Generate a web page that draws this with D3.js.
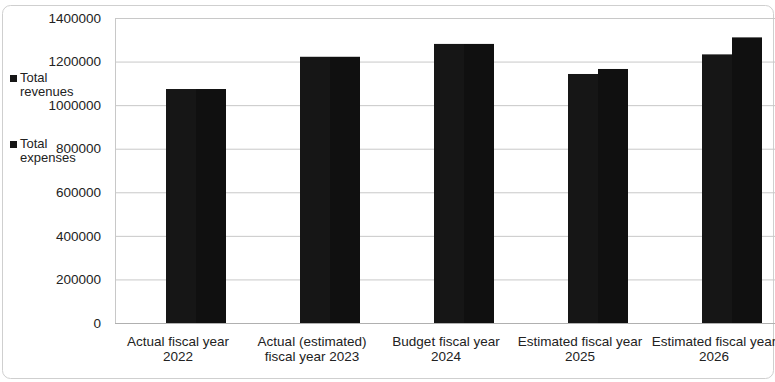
<!DOCTYPE html>
<html lang="en">
<head>
    <meta charset="UTF-8">
    <title>Total revenues and expenses</title>
    <script src="https://d3js.org/d3.v7.min.js"></script>
    <style>
        body { margin: 0; background: #fff; }
        text { font-family: "Liberation Sans", Arial, sans-serif; fill: #222; }
    </style>
</head>
<body>
    <svg width="775" height="382" id="chart"></svg>

    <script>
        // data
        var categories = [
            ["Actual fiscal year", "2022"],
            ["Actual (estimated)", "fiscal year 2023"],
            ["Budget fiscal year", "2024"],
            ["Estimated fiscal year", "2025"],
            ["Estimated fiscal year", "2026"]
        ];
        var seriesNames = ["Total revenues", "Total expenses"];
        var revenues = [1074000, 1222000, 1281000, 1143000, 1233000];
        var expenses = [1074000, 1222000, 1281000, 1166000, 1311000];
        var yTicks = [0, 200000, 400000, 600000, 800000, 1000000, 1200000, 1400000];

        var svg = d3.select("#chart");
        var plotLeft = 115, plotRight = 775, plotTop = 18, plotBottom = 323;

        // chart frame
        svg.append("rect")
            .attr("x", 2.5).attr("y", 5.5)
            .attr("width", 771).attr("height", 373)
            .attr("rx", 8)
            .attr("fill", "none")
            .attr("stroke", "#cfcfcf");

        var x = d3.scaleBand()
            .domain(d3.range(categories.length))
            .range([plotLeft - 4, plotLeft - 4 + 134 * categories.length]);

        // the two bars sit right of the category centre
        var x1 = d3.scaleBand()
            .domain([0, 1])
            .range([-12, 48]);

        var y = d3.scaleLinear()
            .domain([0, 1400000])
            .range([plotBottom, plotTop]);

        // gridlines
        svg.append("g")
            .selectAll("line")
            .data(yTicks.slice(1))
            .join("line")
            .attr("x1", plotLeft).attr("x2", plotRight)
            .attr("y1", d => y(d) + 0.5).attr("y2", d => y(d) + 0.5)
            .attr("stroke", "#c8c8c8");

        // plot area left border and baseline
        svg.append("line")
            .attr("x1", plotLeft + 0.5).attr("x2", plotLeft + 0.5)
            .attr("y1", plotTop).attr("y2", plotBottom)
            .attr("stroke", "#c8c8c8");
        svg.append("line")
            .attr("x1", plotLeft).attr("x2", plotRight)
            .attr("y1", plotBottom + 0.5).attr("y2", plotBottom + 0.5)
            .attr("stroke", "#b0b0b0");

        // y tick labels
        svg.append("g")
            .attr("font-size", 13.5)
            .attr("text-anchor", "end")
            .selectAll("text")
            .data(yTicks)
            .join("text")
            .attr("x", 101)
            .attr("y", d => y(d))
            .attr("dy", "0.35em")
            .text(d => d);

        // bars
        var groups = svg.append("g")
            .selectAll("g")
            .data(categories.map((c, i) => [revenues[i], expenses[i]]))
            .join("g")
            .attr("transform", (d, i) => "translate(" + (x(i) + x.bandwidth() / 2) + ",0)");

        groups.selectAll("rect")
            .data(d => d)
            .join("rect")
            .attr("x", (d, j) => x1(j))
            .attr("width", x1.bandwidth())
            .attr("y", d => y(d))
            .attr("height", d => plotBottom - y(d))
            .attr("fill", (d, j) => j == 0 ? "#161616" : "#101010");

        // category labels
        var labels = svg.append("g")
            .attr("font-size", 13.5)
            .attr("text-anchor", "middle")
            .selectAll("text")
            .data(categories)
            .join("text")
            .attr("transform", (d, i) => "translate(" + (x(i) + x.bandwidth() / 2) + ",346)");

        labels.selectAll("tspan")
            .data(d => d)
            .join("tspan")
            .attr("x", 0)
            .attr("y", (d, j) => j * 15)
            .text(d => d);

        // legend
        var legend = svg.append("g")
            .attr("font-size", 13)
            .selectAll("g")
            .data(seriesNames)
            .join("g")
            .attr("transform", (d, i) => "translate(10," + (82 + i * 66) + ")");

        legend.append("rect")
            .attr("x", 0).attr("y", -7)
            .attr("width", 7).attr("height", 7)
            .attr("fill", "#161616");

        legend.append("text")
            .attr("x", 10)
            .text(d => d.split(" ")[0]);

        legend.append("text")
            .attr("x", 10)
            .attr("y", 14)
            .text(d => d.split(" ")[1]);
    </script>
</body>
</html>
